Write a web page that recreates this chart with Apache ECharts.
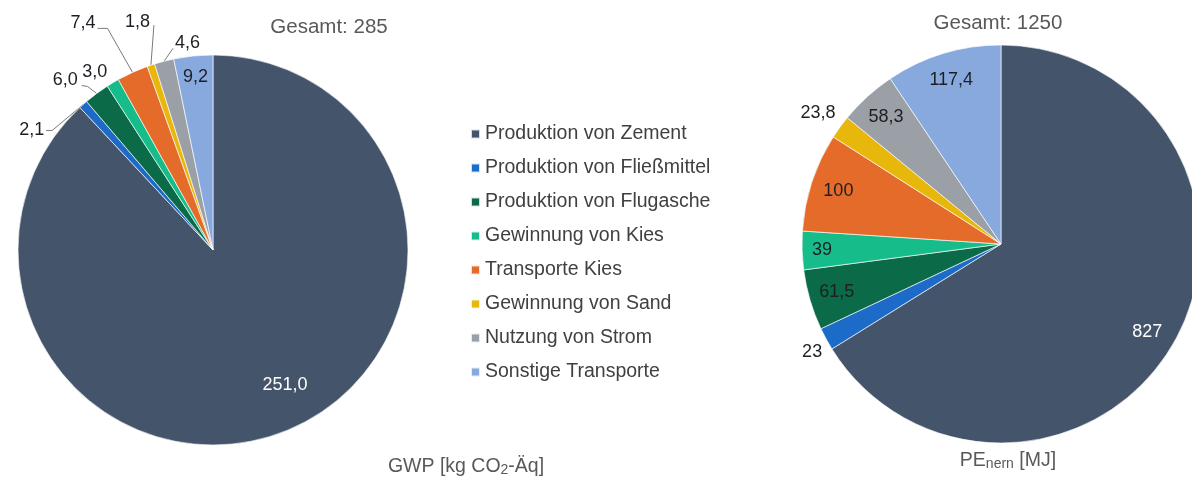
<!DOCTYPE html>
<html>
<head>
<meta charset="utf-8">
<script src="https://cdn.jsdelivr.net/npm/echarts@6/dist/echarts.min.js"></script>
<style>
html,body{margin:0;padding:0;background:#fff;}
#chart{width:1192px;height:480px;}
</style>
</head>
<body>
<div id="chart"></div>
<script>
// ---- data ----
const categories = ['Produktion von Zement','Produktion von Fließmittel','Produktion von Flugasche','Gewinnung von Kies','Transporte Kies','Gewinnung von Sand','Nutzung von Strom','Sonstige Transporte'];
const gwpValues = [251.0, 2.1, 6.0, 3.0, 7.4, 1.8, 4.6, 9.2];
const peValues = [827, 23, 61.5, 39, 100, 23.8, 58.3, 117.4];
const gwpTitle = 'GWP [kg CO{s|2}-Äq]';
const peTitle = 'PE{s|nern} [MJ]';
const totalPrefix = 'Gesamt: ';

// ---- style ----
const colors = ['#44546A','#1C6BC8','#0B6A47','#16BC8A','#E56B2B','#E7B70C','#9AA0A6','#88A9DE'];
const FONT = '"Liberation Sans", Arial, sans-serif';
// label placement styles (radial fraction for inside labels, offsets from slice edge for outside labels)
const gwpLabelStyle = [
  {f:0.74, shift:[19,1], color:'#ffffff'},
  {off:[-39,26], line:[[-31,26],[-37,26]], align:'right'},
  {off:[-19,-13], line:[[-9,-7],[-15,-8]], align:'right'},
  {off:[-18,-11], align:'center'},
  {off:[-37,-49], line:[[-25,-44],[-35,-44]], align:'right'},
  {off:[-1,-43], line:[[3,-40]], align:'right'},
  {off:[11,-18], line:[[9,-13]], align:'left'},
  {f:0.89}
];
const peLabelStyle = [
  {f:0.83, shift:[2,8], color:'#ffffff'},
  {off:[-14,13], align:'center'},
  {f:0.86},{f:0.9},{f:0.86},
  {off:[-22,-14], align:'center'},
  {f:0.86},{f:0.86}
];

const chart = echarts.init(document.getElementById('chart'), null, {renderer:'canvas'});

function fmtGwp(v){ return v.toFixed(1).replace('.', ','); }
function fmtPe(v){ return String(v).replace('.', ','); }
const sum = a => a.reduce((s,v)=>s+v,0);

function buildData(values, styles, fmt){
  return values.map((v,i)=>({
    name: categories[i],
    value: v,
    itemStyle: {color: colors[i]},
    label: {color: styles[i].color || '#1e1e24', formatter: fmt(v)},
    labelLine: {show: !!styles[i].line}
  }));
}

const styleBySeries = [gwpLabelStyle, peLabelStyle];

function labelLayout(p){
  const s = styleBySeries[p.seriesIndex][p.dataIndex];
  const lay = chart.getModel().getSeriesByIndex(p.seriesIndex).getData().getItemLayout(p.dataIndex);
  const m = (lay.startAngle + lay.endAngle) / 2;
  const cos = Math.cos(m), sin = Math.sin(m);
  if (s.f !== undefined) {
    const sh = s.shift || [0,0];
    return {x: lay.cx + s.f*lay.r*cos + sh[0], y: lay.cy + s.f*lay.r*sin + sh[1], align:'center', verticalAlign:'middle', hideOverlap:false};
  }
  const ex = lay.cx + lay.r*cos, ey = lay.cy + lay.r*sin;
  const out = {x: ex + s.off[0], y: ey + s.off[1], align: s.align, verticalAlign:'middle', hideOverlap:false};
  if (s.line) {
    out.labelLinePoints = [[ex,ey]].concat(s.line.map(q=>[ex+q[0], ey+q[1]]));
  }
  return out;
}

const seriesCommon = {
  type: 'pie',
  startAngle: 90,
  clockwise: true,
  avoidLabelOverlap: false,
  silent: true,
  itemStyle: {borderColor:'rgba(255,255,255,0.8)', borderWidth:0.8},
  label: {show:true, position:'outside', fontFamily: FONT, fontSize:18},
  labelLine: {lineStyle:{color:'#7a7a7a', width:1}, smooth:false},
  labelLayout: labelLayout,
  emphasis: {disabled:true}
};

const richSub = {
  s: {fontFamily: FONT, fontSize: 14, fill:'#595959', verticalAlign:'bottom', padding:[0,0,0,0]}
};

chart.setOption({
  animation: false,
  legend: {
    data: categories,
    orient: 'vertical',
    left: 465,
    top: 119,
    icon: 'rect',
    itemWidth: 9,
    itemHeight: 9,
    itemGap: 14,
    selectedMode: false,
    textStyle: {fontFamily: FONT, fontSize: 19.5, color:'#404040'}
  },
  graphic: [
    {type:'text', x:329, y:27, style:{text: totalPrefix + Math.round(sum(gwpValues)), font:'20.5px ' + FONT, fill:'#595959', align:'center', verticalAlign:'middle'}},
    {type:'text', x:998, y:23, style:{text: totalPrefix + Math.round(sum(peValues)), font:'20.5px ' + FONT, fill:'#595959', align:'center', verticalAlign:'middle'}},
    {type:'text', x:466, y:467, style:{text: gwpTitle, font:'19.5px ' + FONT, fill:'#595959', align:'center', verticalAlign:'middle', rich: richSub}},
    {type:'text', x:1008, y:461, style:{text: peTitle, font:'19.5px ' + FONT, fill:'#595959', align:'center', verticalAlign:'middle', rich: richSub}}
  ],
  series: [
    Object.assign({}, seriesCommon, {name:'GWP', center:[213,250], radius:195, data: buildData(gwpValues, gwpLabelStyle, fmtGwp)}),
    Object.assign({}, seriesCommon, {name:'PE', center:[1001,244], radius:199, data: buildData(peValues, peLabelStyle, fmtPe)})
  ]
});
</script>
</body>
</html>
